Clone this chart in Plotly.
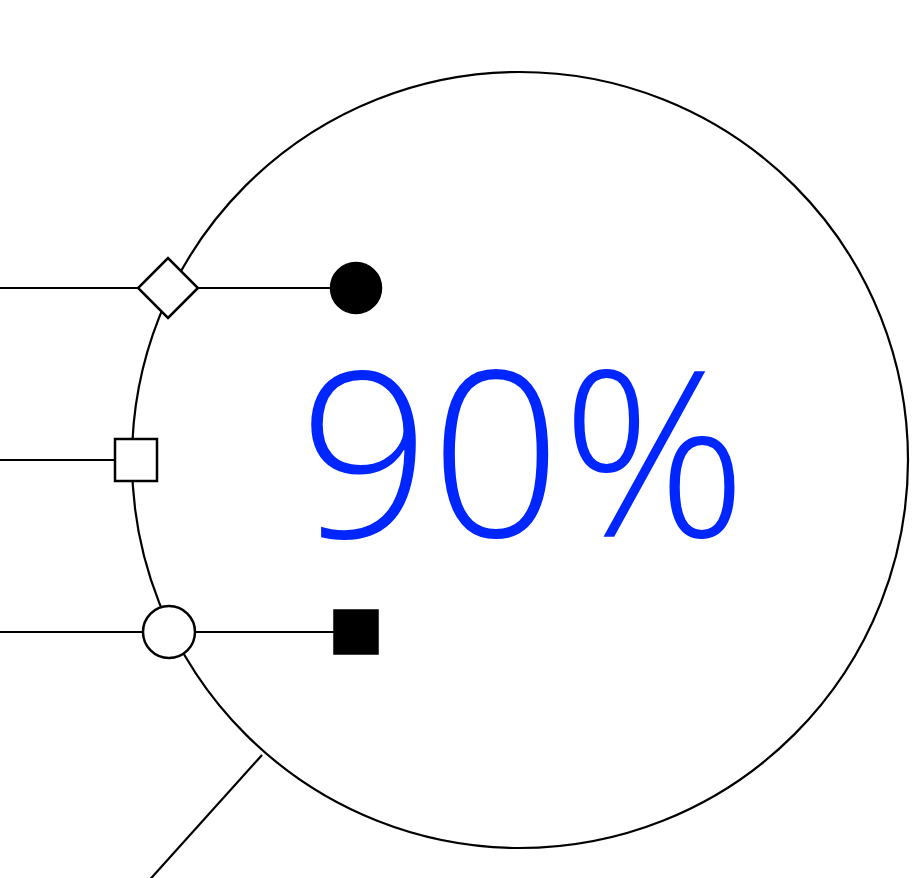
import plotly.graph_objects as go

W, H = 913, 878

# Big ring
ring_cx, ring_cy, ring_r = 520, 460, 388

# Connector lines (pixel-space diagram coordinates)
line_x = [[-5, 356], [-5, 136], [-5, 356], [262, 145]]
line_y = [[288, 288], [460, 460], [632, 632], [755, 885]]

# Nodes
node_x = [168, 356, 136, 169, 356]
node_y = [288, 288, 460, 632, 632]
node_symbol = ["diamond", "circle", "square", "circle", "square"]
node_size = [46, 50, 42, 52, 43]
node_fill = ["white", "black", "white", "white", "black"]

label_text = "90%"

fig = go.Figure()

fig.add_shape(type="circle", xref="x", yref="y",
              x0=ring_cx - ring_r, x1=ring_cx + ring_r,
              y0=ring_cy - ring_r, y1=ring_cy + ring_r,
              line=dict(color="black", width=2.2), layer="below")

for lx, ly in zip(line_x, line_y):
    fig.add_trace(go.Scatter(x=lx, y=ly, mode="lines",
                             line=dict(color="black", width=2.2),
                             hoverinfo="skip", showlegend=False))

fig.add_trace(go.Scatter(x=node_x, y=node_y, mode="markers",
                         marker=dict(symbol=node_symbol, size=node_size,
                                     color=node_fill, opacity=1,
                                     line=dict(color="black", width=2.5)),
                         hoverinfo="skip", showlegend=False, cliponaxis=False))

fig.add_annotation(x=523, y=447, xref="x", yref="y", text=label_text,
                   showarrow=False, xanchor="center", yanchor="middle",
                   font=dict(family="Open Sans", size=230, color="#0026ff", weight=300))

fig.update_xaxes(range=[0, W], visible=False, fixedrange=True)
fig.update_yaxes(range=[H, 0], visible=False, fixedrange=True)
fig.update_layout(width=W, height=H,
                  margin=dict(l=0, r=0, t=0, b=0),
                  paper_bgcolor="white", plot_bgcolor="white")

fig.write_html("out.html", config={"displayModeBar": False},
               post_script="document.body.style.margin='0';document.body.style.overflow='hidden';")
